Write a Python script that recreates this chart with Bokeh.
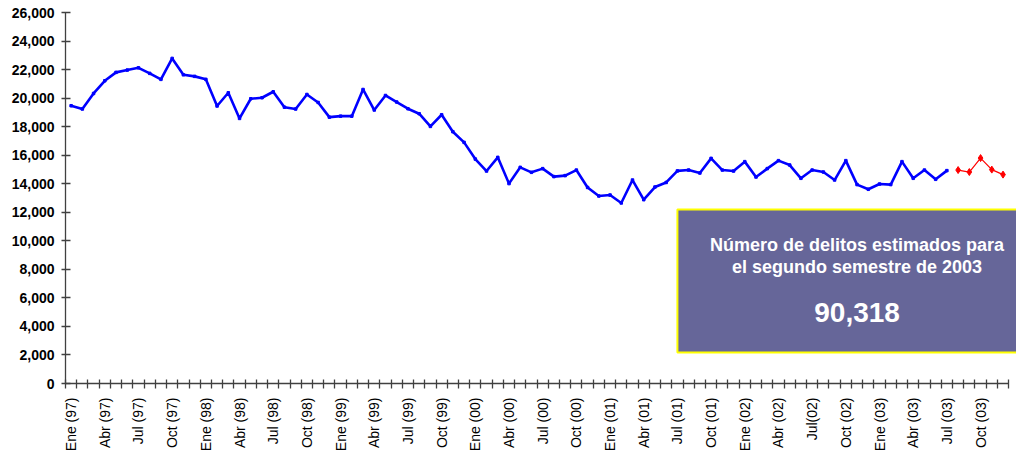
import math
from bokeh.plotting import figure
from bokeh.models import Range1d, FixedTicker, NumeralTickFormatter, BoxAnnotation, Label
from bokeh.embed import file_html
from bokeh.resources import INLINE

# ---- data ----
tick_labels = ["Ene (97)", "Abr (97)", "Jul (97)", "Oct (97)",
               "Ene (98)", "Abr (98)", "Jul (98)", "Oct (98)",
               "Ene (99)", "Abr (99)", "Jul (99)", "Oct (99)",
               "Ene (00)", "Abr (00)", "Jul (00)", "Oct (00)",
               "Ene (01)", "Abr (01)", "Jul (01)", "Oct (01)",
               "Ene (02)", "Abr (02)", "Jul(02)", "Oct (02)",
               "Ene (03)", "Abr (03)", "Jul (03)", "Oct (03)"]
n_months = 84  # Ene 1997 .. Dic 2003

observed = [
    19480, 19250, 20340, 21230, 21820, 21980, 22140, 21750, 21330, 22800, 21650, 21540,
    21330, 19460, 20390, 18590, 19970, 20040, 20460, 19380, 19250, 20270, 19710, 18680,
    18750, 18750, 20620, 19180, 20200, 19740, 19270, 18920, 18030, 18850, 17660, 16910,
    15740, 14900, 15860, 14020, 15160, 14810, 15070, 14510, 14580, 14970, 13750, 13150,
    13220, 12660, 14270, 12890, 13780, 14100, 14910, 14970, 14760, 15790, 14970, 14900,
    15560, 14480, 15070, 15630, 15320, 14390, 14970, 14830, 14270, 15630, 13950, 13620,
    13990, 13950, 15560, 14390, 14970, 14320, 14930,
]
estimated = [14970, 14830, 15810, 15000, 14650]
box_title = ["Número de delitos estimados para", "el segundo semestre de 2003"]
box_value = "90,318"

obs_x = [i + 0.5 for i in range(len(observed))]
est_x = [len(observed) + i + 0.5 for i in range(len(estimated))]

FONT = "Liberation Sans"
AXIS_COLOR = "#404040"

p = figure(width=1016, height=454, output_backend="svg", toolbar_location=None,
           x_range=Range1d(0, 84.7), y_range=Range1d(0, 26300),
           min_border_left=65, min_border_right=0, min_border_top=8, min_border_bottom=71)
p.outline_line_color = None
p.xgrid.visible = False
p.ygrid.visible = False
p.background_fill_color = "white"
p.border_fill_color = "white"

# lines
p.line(obs_x, observed, line_color="#0000FF", line_width=2.6)
p.scatter(obs_x, observed, marker="square", size=2.5, color="#0000FF")
p.line(est_x, estimated, line_color="#FF0000", line_width=1.2)
p.scatter(est_x, estimated, marker="diamond", size=7, color="#FF0000")

# x axis
xa = p.xaxis[0]
label_pos = [i + 0.5 for i in range(0, n_months, 3)]
xa.ticker = FixedTicker(ticks=label_pos, minor_ticks=list(range(n_months + 1)))
xa.major_label_overrides = {pos: lab for pos, lab in zip(label_pos, tick_labels)}
xa.major_label_orientation = math.pi / 2
xa.major_tick_in = 0
xa.major_tick_out = 0
xa.minor_tick_in = 4
xa.minor_tick_out = 5
xa.minor_tick_line_color = AXIS_COLOR
xa.minor_tick_line_width = 1.3
xa.axis_line_color = AXIS_COLOR
xa.axis_line_width = 1.3
xa.bounds = (0, n_months)
xa.major_label_text_font = FONT
xa.major_label_text_font_size = "14px"
xa.major_label_text_color = "black"
xa.major_label_standoff = 9

# y axis
ya = p.yaxis[0]
ya.ticker = FixedTicker(ticks=list(range(0, 26001, 2000)))
ya.formatter = NumeralTickFormatter(format="0,0")
ya.bounds = (0, 26000)
ya.major_tick_in = 5
ya.major_tick_out = 4
ya.minor_tick_line_color = None
ya.major_tick_line_color = AXIS_COLOR
ya.major_tick_line_width = 1.3
ya.axis_line_color = AXIS_COLOR
ya.axis_line_width = 1.3
ya.major_label_text_font = FONT
ya.major_label_text_font_size = "14px"
ya.major_label_text_font_style = "bold"
ya.major_label_text_color = "black"
ya.major_label_standoff = 7

# annotation box
box = BoxAnnotation(left=54.5, right=90, top=12200, bottom=2170,
                    fill_color="#666699", fill_alpha=1.0,
                    line_color="#FFFF00", line_width=2, line_alpha=1.0)
p.add_layout(box)

for txt, yv, fs in [(box_title[0], 9700, "18px"), (box_title[1], 8160, "18px"),
                    (box_value, 5000, "28px")]:
    p.add_layout(Label(x=70.5, y=yv, text=txt, text_align="center", text_baseline="middle",
                       text_font=FONT, text_font_size=fs, text_font_style="bold",
                       text_color="white"))

open("out.html", "w").write(file_html(p, INLINE))
